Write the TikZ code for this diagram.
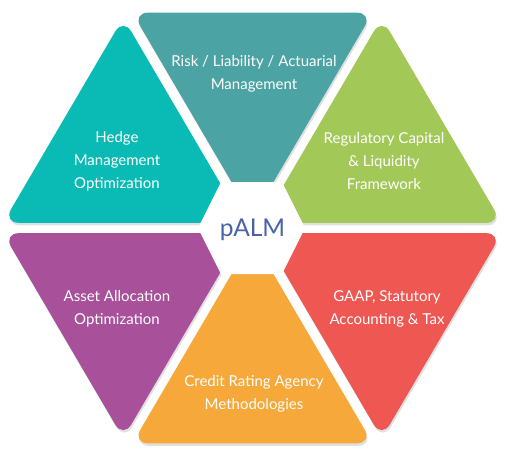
\documentclass[tikz,border=0pt]{standalone}
\usepackage{fontspec}
\setmainfont{Lato}
\usetikzlibrary{calc,shadows}
\definecolor{cT}{HTML}{4BA3A3}
\definecolor{cTL}{HTML}{0ABAB4}
\definecolor{cTR}{HTML}{A2C857}
\definecolor{cBR}{HTML}{EF5753}
\definecolor{cB}{HTML}{F7A83A}
\definecolor{cBL}{HTML}{A8509A}
\definecolor{cTxt}{HTML}{4A62A8}
\newcommand\shrinkk{0.93}
\tikzset{
  piece/.style={rounded corners=16pt, drop shadow={shadow xshift=1pt, shadow yshift=-2.5pt, opacity=0.12, fill=black}},
  lbl/.style={text=white, align=center, font=\fontsize{15}{23}\selectfont, inner sep=0pt},
  hub/.style={text=cTxt, font=\fontsize{24.5}{30}\selectfont, inner sep=0pt}
}
\begin{document}
\begin{tikzpicture}[x=1pt,y=-1pt]
\useasboundingbox (0,0) rectangle (505,456);
\coordinate (C) at (252.5,228);
\coordinate (V0) at (511,228);
\coordinate (V60) at (381.75,7.5);
\coordinate (V120) at (123.25,7.5);
\coordinate (V180) at (-6,228);
\coordinate (V240) at (123.25,448.5);
\coordinate (V300) at (381.75,448.5);
\coordinate (gT) at (barycentric cs:C=1,V60=1,V120=1);
\coordinate (gTL) at (barycentric cs:C=1,V120=1,V180=1);
\coordinate (gBL) at (barycentric cs:C=1,V180=1,V240=1);
\coordinate (gB) at (barycentric cs:C=1,V240=1,V300=1);
\coordinate (gBR) at (barycentric cs:C=1,V300=1,V0=1);
\coordinate (gTR) at (barycentric cs:C=1,V0=1,V60=1);
% pieces
\fill[cB, piece] ($(gB)!\shrinkk!(C)$) -- ($(gB)!\shrinkk!(V240)$) -- ($(gB)!\shrinkk!(V300)$) -- cycle;
\fill[cBL, piece] ($(gBL)!\shrinkk!(C)$) -- ($(gBL)!\shrinkk!(V180)$) -- ($(gBL)!\shrinkk!(V240)$) -- cycle;
\fill[cBR, piece] ($(gBR)!\shrinkk!(C)$) -- ($(gBR)!\shrinkk!(V300)$) -- ($(gBR)!\shrinkk!(V0)$) -- cycle;
\fill[cTL, piece] ($(gTL)!\shrinkk!(C)$) -- ($(gTL)!\shrinkk!(V120)$) -- ($(gTL)!\shrinkk!(V180)$) -- cycle;
\fill[cTR, piece] ($(gTR)!\shrinkk!(C)$) -- ($(gTR)!\shrinkk!(V0)$) -- ($(gTR)!\shrinkk!(V60)$) -- cycle;
\fill[cT, piece] ($(gT)!\shrinkk!(C)$) -- ($(gT)!\shrinkk!(V60)$) -- ($(gT)!\shrinkk!(V120)$) -- cycle;
% central hexagon
\fill[white, drop shadow={shadow xshift=0pt, shadow yshift=0pt, opacity=0.05, fill=black}] (198,228) -- (221,182) -- (282,182) -- (305,228) -- (282,274) -- (221,274) -- cycle;
% labels
\node[lbl] (tT) at (254,74) {Risk / Liability / Actuarial\\Management};
\node[lbl] (tTL) at (117,161.5) {Hedge\\Management\\Optimization};
\node[lbl] (tTR) at (384,161.5) {Regulatory Capital\\\& Liquidity\\Framework};
\node[lbl] (tBL) at (117,308.5) {Asset Allocation\\Optimization};
\node[lbl] (tBR) at (387,308.5) {GAAP, Statutory\\Accounting \& Tax};
\node[lbl] (tB) at (254,393.5) {Credit Rating Agency\\Methodologies};
\node[hub] (hub) at (252.5,230) {pALM};
\end{tikzpicture}
\end{document}
